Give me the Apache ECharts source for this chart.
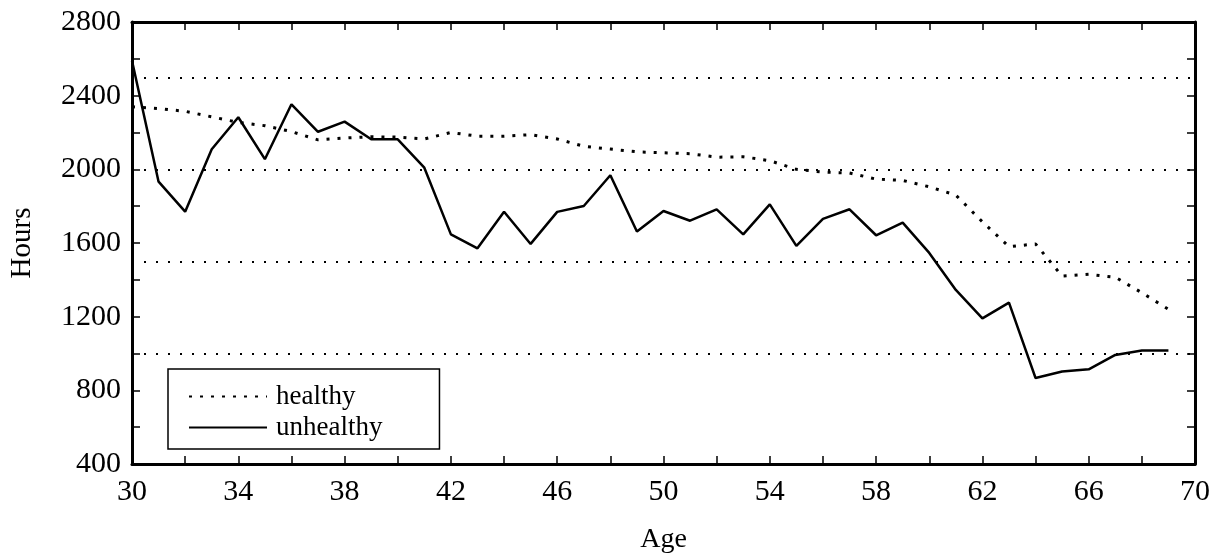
<!DOCTYPE html>
<html>
<head>
<meta charset="utf-8">
<script src="https://cdn.jsdelivr.net/npm/echarts@6/dist/echarts.min.js"></script>
<style>
html,body{margin:0;padding:0;background:#fff;}
#chart{width:1211px;height:554px;}
</style>
</head>
<body>
<div id="chart"></div>
<script>
var ages = [30,31,32,33,34,35,36,37,38,39,40,41,42,43,44,45,46,47,48,49,50,51,52,53,54,55,56,57,58,59,60,61,62,63,64,65,66,67,68,69];
var healthy = [2340,2330,2315,2285,2255,2237,2205,2160,2170,2177,2175,2165,2200,2180,2180,2188,2165,2125,2110,2095,2090,2085,2066,2068,2047,2000,1985,1980,1947,1940,1905,1860,1715,1580,1595,1420,1430,1414,1330,1240];
var unhealthy = [2590,1933,1770,2109,2283,2055,2353,2204,2259,2163,2163,2009,1647,1571,1770,1595,1769,1801,1968,1662,1774,1721,1783,1647,1810,1584,1731,1783,1642,1711,1546,1345,1191,1276,867,902,914,992,1016,1016];
var refLines = [2500,2000,1500,1000];
var xTicks = [30,34,38,42,46,50,54,58,62,66,70];
var yTicks = [400,800,1200,1600,2000,2400,2800];

var FONT = 'Liberation Serif';
function pairs(xs, ys){ return xs.map(function(x,i){ return [x, ys[i]]; }); }
function plain(v){ return String(v); }

var chart = echarts.init(document.getElementById('chart'), null, {renderer:'canvas'});
var axisLineStyle = {color:'#000', width:3};
var tickStyle = {color:'#000', width:1.5};
chart.setOption({
  backgroundColor:'#fff',
  animation:false,
  grid:{left:132, right:16, top:22, bottom:90, containLabel:false, outerBoundsMode:'none'},
  legend:{
    orient:'vertical', left:168, top:369,
    padding:[12,57,6,20],
    borderColor:'#000', borderWidth:1.5, borderRadius:0,
    itemWidth:78, itemHeight:14, itemGap:0,
    itemStyle:{color:'rgba(0,0,0,0)', borderWidth:0, opacity:0},
    textStyle:{fontFamily:FONT, fontSize:27, color:'#000', lineHeight:31, padding:[0,0,0,4]},
    data:['healthy','unhealthy']
  },
  xAxis:[{
    type:'value', min:xTicks[0], max:xTicks[xTicks.length-1], interval:4,
    name:'Age', nameLocation:'middle', nameGap:62,
    nameTextStyle:{fontFamily:FONT, fontSize:28, color:'#000'},
    axisLine:{show:true, lineStyle:axisLineStyle},
    axisTick:{show:true, inside:true, length:8, lineStyle:tickStyle},
    minorTick:{show:true, splitNumber:2, length:8, lineStyle:tickStyle},
    axisLabel:{fontFamily:FONT, fontSize:30, color:'#000', margin:13, formatter:plain},
    splitLine:{show:false}
  },{
    type:'value', position:'top', min:30, max:70, interval:4,
    axisLine:{show:true, lineStyle:axisLineStyle},
    axisTick:{show:true, inside:true, length:8, lineStyle:tickStyle},
    minorTick:{show:true, splitNumber:2, length:8, lineStyle:tickStyle},
    axisLabel:{show:false}, splitLine:{show:false}
  }],
  yAxis:[{
    type:'value', min:yTicks[0], max:yTicks[yTicks.length-1], interval:400,
    name:'Hours', nameLocation:'middle', nameGap:95, nameRotate:90,
    nameTextStyle:{fontFamily:FONT, fontSize:29, color:'#000'},
    axisLine:{show:true, lineStyle:axisLineStyle},
    axisTick:{show:true, inside:true, length:8, lineStyle:tickStyle},
    minorTick:{show:true, splitNumber:2, length:8, lineStyle:tickStyle},
    axisLabel:{fontFamily:FONT, fontSize:30, color:'#000', margin:11, formatter:plain},
    splitLine:{show:false}
  },{
    type:'value', position:'right', min:400, max:2800, interval:400,
    axisLine:{show:true, lineStyle:axisLineStyle},
    axisTick:{show:true, inside:true, length:8, lineStyle:tickStyle},
    minorTick:{show:true, splitNumber:2, length:8, lineStyle:tickStyle},
    axisLabel:{show:false}, splitLine:{show:false}
  }],
  series:[{
    name:'healthy', type:'line', xAxisIndex:0, yAxisIndex:0,
    data:pairs(ages, healthy), symbol:'none',
    lineStyle:{color:'#000', width:3, type:[3,8]},
    itemStyle:{color:'#000'},
    markLine:{
      silent:true, symbol:'none', label:{show:false},
      lineStyle:{color:'#000', width:2, type:[2,10]},
      data:refLines.map(function(v){ return {yAxis:v}; })
    }
  },{
    name:'unhealthy', type:'line', xAxisIndex:0, yAxisIndex:0,
    data:pairs(ages, unhealthy), symbol:'none',
    lineStyle:{color:'#000', width:2.5, type:'solid'},
    itemStyle:{color:'#000'}
  }]
});
</script>
</body>
</html>
